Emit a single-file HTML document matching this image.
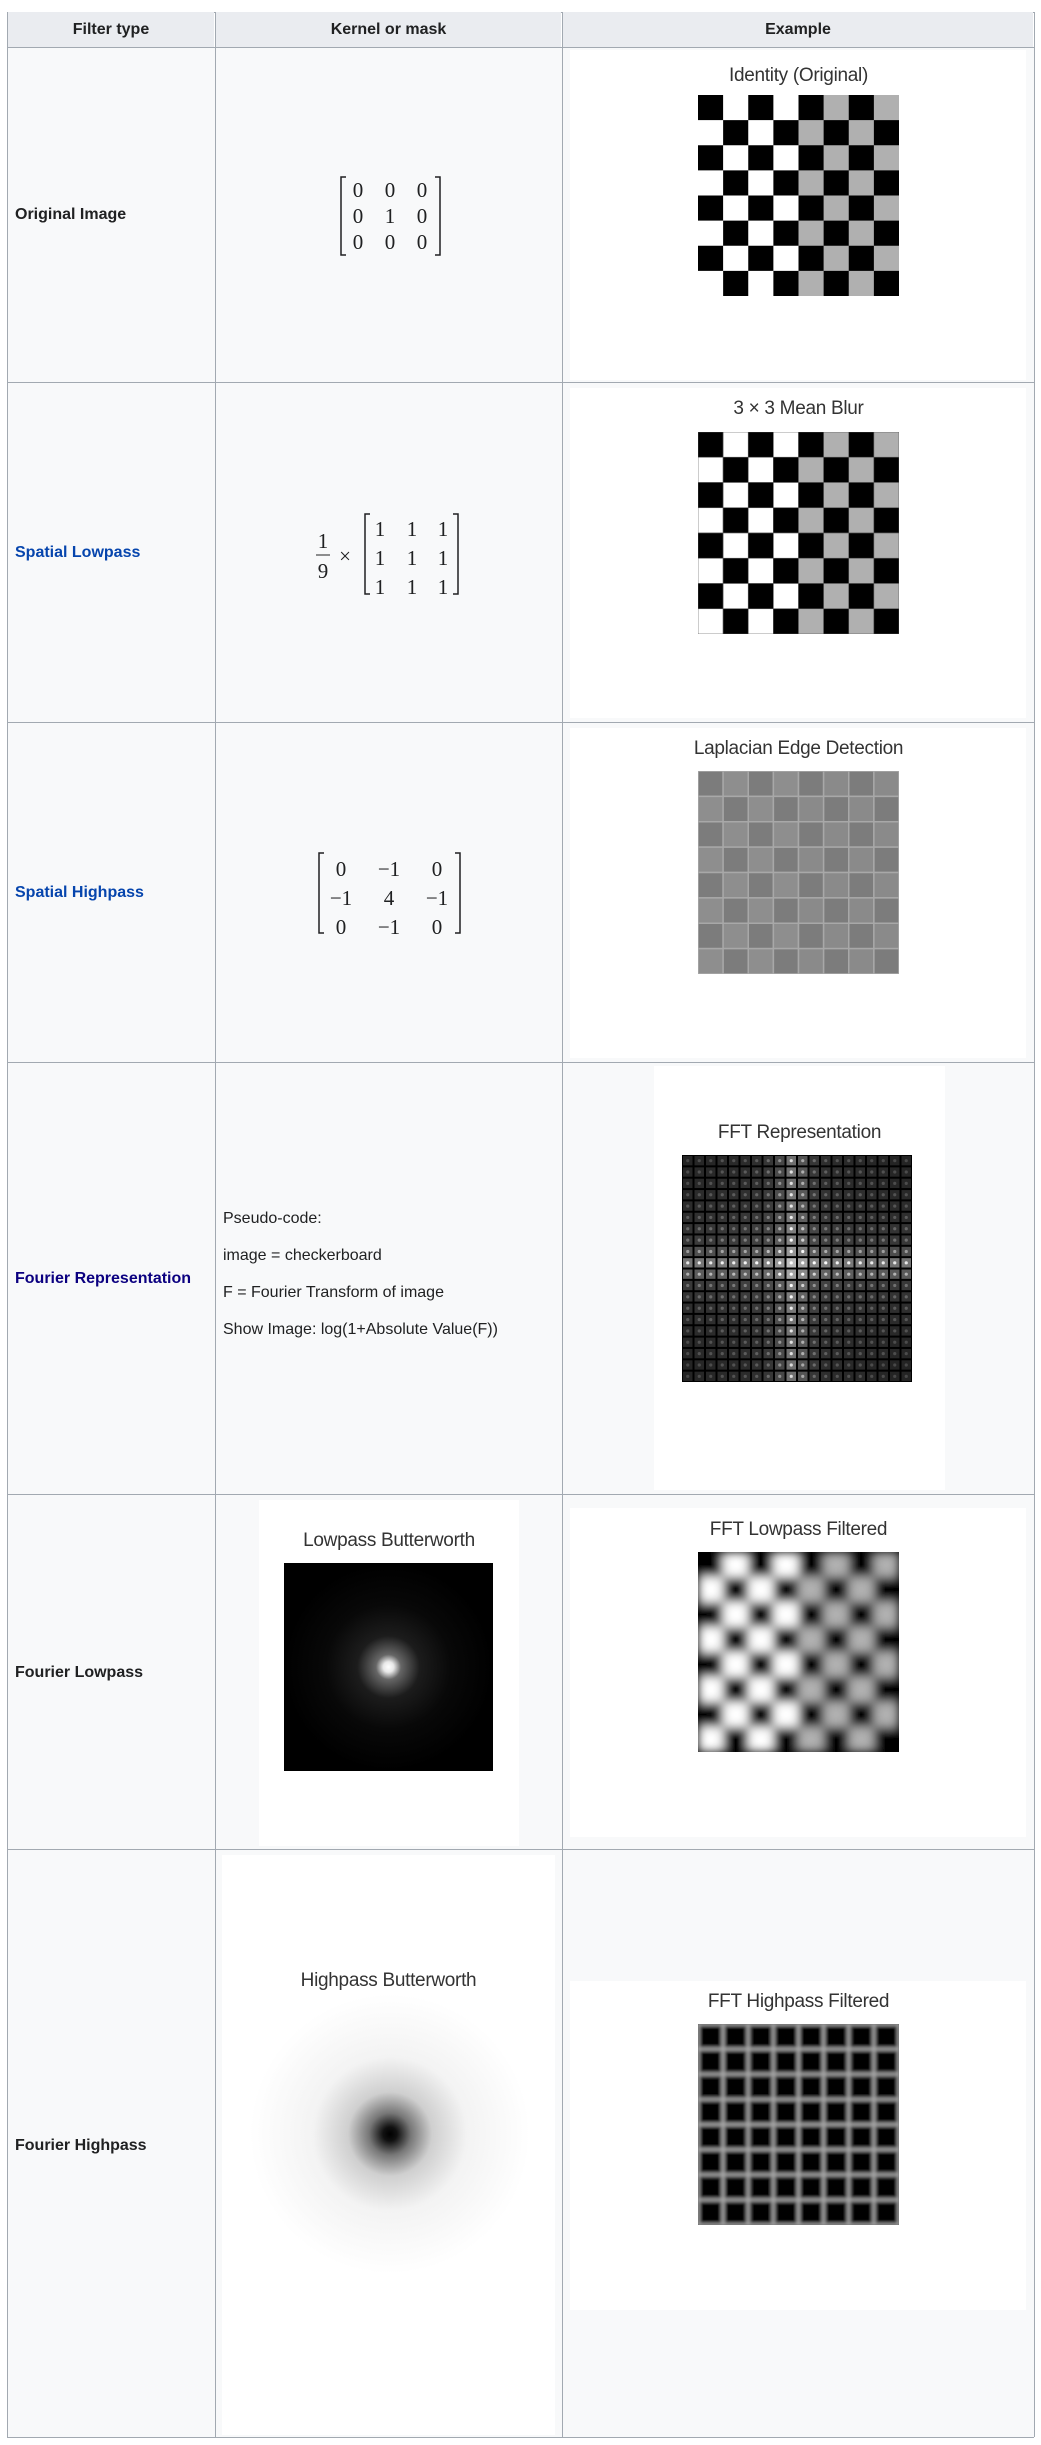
<!DOCTYPE html>
<html><head><meta charset="utf-8">
<style>
html,body{margin:0;padding:0;background:#fff;}
body{width:1041px;height:2445px;position:relative;overflow:hidden;font-family:"Liberation Sans",sans-serif;}
.abs{position:absolute;}
.hd{position:absolute;background:#eaecf0;font-weight:bold;font-size:16px;color:#202122;text-align:center;line-height:35px;}
.lbl{position:absolute;left:15px;font-weight:bold;font-size:16px;color:#202122;transform:translateY(-50%);white-space:nowrap;}
.panel{position:absolute;background:#fff;}
.ttl{position:absolute;font-size:19px;color:#333;text-align:center;transform:translateY(-50%);letter-spacing:-0.3px;white-space:nowrap;}
.code{position:absolute;left:223px;font-size:16px;color:#202122;transform:translateY(-50%);white-space:nowrap;}
svg text{font-family:"Liberation Serif",serif;}
</style></head><body>
<svg class="abs" style="left:0;top:0" width="1041" height="2445" id="grid"></svg>

<div class="hd" style="left:8px;top:12px;width:206px;height:35px">Filter type</div>
<div class="hd" style="left:216px;top:12px;width:345px;height:35px">Kernel or mask</div>
<div class="hd" style="left:563px;top:12px;width:470px;height:35px">Example</div>

<div class="lbl" style="top:215px">Original Image</div>
<div class="lbl" style="top:553px;color:#0645ad">Spatial Lowpass</div>
<div class="lbl" style="top:893px;color:#0645ad">Spatial Highpass</div>
<div class="lbl" style="top:1279px;color:#0b0080">Fourier Representation</div>
<div class="lbl" style="top:1673px">Fourier Lowpass</div>
<div class="lbl" style="top:2146px">Fourier Highpass</div>

<div class="panel" style="left:570px;top:50px;width:456px;height:330px"></div>
<div class="panel" style="left:570px;top:388px;width:456px;height:330px"></div>
<div class="panel" style="left:570px;top:728px;width:456px;height:330px"></div>
<div class="panel" style="left:654px;top:1066px;width:291px;height:424px"></div>
<div class="panel" style="left:259px;top:1500px;width:260px;height:346px"></div>
<div class="panel" style="left:570px;top:1508px;width:456px;height:329px"></div>
<div class="panel" style="left:222px;top:1855px;width:333px;height:580px"></div>
<div class="panel" style="left:570px;top:1981px;width:456px;height:329px"></div>

<div class="ttl" style="left:698px;width:201px;top:76px">Identity (Original)</div>
<div class="ttl" style="left:698px;width:201px;top:409px">3 × 3 Mean Blur</div>
<div class="ttl" style="left:648px;width:301px;top:749px">Laplacian Edge Detection</div>
<div class="ttl" style="left:654px;width:291px;top:1133px">FFT Representation</div>
<div class="ttl" style="left:259px;width:260px;top:1541px">Lowpass Butterworth</div>
<div class="ttl" style="left:648px;width:301px;top:1530px">FFT Lowpass Filtered</div>
<div class="ttl" style="left:222px;width:333px;top:1981px">Highpass Butterworth</div>
<div class="ttl" style="left:648px;width:301px;top:2002px">FFT Highpass Filtered</div>

<div class="code" style="top:1219px">Pseudo-code:</div>
<div class="code" style="top:1256px">image = checkerboard</div>
<div class="code" style="top:1293px">F = Fourier Transform of image</div>
<div class="code" style="top:1330px">Show Image: log(1+Absolute Value(F))</div>

<svg class="abs" style="left:330px;top:170px" width="120" height="95">
 <path d="M16 7 H11 V85 H16 M105 7 H110 V85 H105" stroke="#202122" stroke-width="1.5" fill="none"/>
 <g font-size="21" fill="#202122" text-anchor="middle">
  <text x="28" y="27">0</text><text x="60" y="27">0</text><text x="92" y="27">0</text>
  <text x="28" y="53">0</text><text x="60" y="53">1</text><text x="92" y="53">0</text>
  <text x="28" y="79">0</text><text x="60" y="79">0</text><text x="92" y="79">0</text>
 </g>
</svg>
<svg class="abs" style="left:305px;top:505px" width="170" height="100">
 <g font-size="21" fill="#202122" text-anchor="middle">
  <text x="18" y="43">1</text><text x="18" y="73">9</text>
  <text x="40" y="58">×</text>
  <text x="75" y="31">1</text><text x="107" y="31">1</text><text x="138" y="31">1</text>
  <text x="75" y="60">1</text><text x="107" y="60">1</text><text x="138" y="60">1</text>
  <text x="75" y="89">1</text><text x="107" y="89">1</text><text x="138" y="89">1</text>
 </g>
 <line x1="11" y1="50" x2="25" y2="50" stroke="#202122" stroke-width="1"/>
 <path d="M65 9 H60 V89 H65 M148 9 H153 V89 H148" stroke="#202122" stroke-width="1.5" fill="none"/>
</svg>
<svg class="abs" style="left:310px;top:845px" width="160" height="100">
 <path d="M14 8 H9 V88 H14 M145 8 H150 V88 H145" stroke="#202122" stroke-width="1.5" fill="none"/>
 <g font-size="21" fill="#202122" text-anchor="middle">
  <text x="31" y="31">0</text><text x="79" y="31">−1</text><text x="127" y="31">0</text>
  <text x="31" y="60">−1</text><text x="79" y="60">4</text><text x="127" y="60">−1</text>
  <text x="31" y="89">0</text><text x="79" y="89">−1</text><text x="127" y="89">0</text>
 </g>
</svg>

<svg class="abs" id="img-identity" style="left:698px;top:95px" width="201" height="201"></svg>
<svg class="abs" id="img-blur" style="left:698px;top:432px" width="201" height="202"></svg>
<svg class="abs" id="img-lap" style="left:698px;top:771px" width="201" height="203"></svg>
<svg class="abs" id="img-fft" style="left:682px;top:1155px" width="230" height="227"></svg>
<svg class="abs" style="left:284px;top:1563px" width="209" height="208">
 <defs><radialGradient id="lp" cx="0.5" cy="0.5" r="0.5">
  <stop offset="0" stop-color="#fff"/><stop offset="0.05" stop-color="#e8e8e8"/><stop offset="0.12" stop-color="#666"/><stop offset="0.3" stop-color="#1c1c1c"/><stop offset="0.6" stop-color="#080808"/><stop offset="1" stop-color="#000"/>
 </radialGradient></defs>
 <rect width="209" height="208" fill="url(#lp)"/>
</svg>
<svg class="abs" style="left:250px;top:1994px" width="280" height="280">
 <defs><radialGradient id="hp" cx="0.5" cy="0.5" r="0.5">
  <stop offset="0" stop-color="#000"/><stop offset="0.05" stop-color="#111"/><stop offset="0.15" stop-color="#777"/><stop offset="0.3" stop-color="#cfcfcf"/><stop offset="0.55" stop-color="#f3f3f3"/><stop offset="1" stop-color="#fff"/>
 </radialGradient></defs>
 <rect width="280" height="280" fill="url(#hp)"/>
</svg>
<svg class="abs" id="img-flp" style="left:698px;top:1552px" width="201" height="200"></svg>
<svg class="abs" id="img-fhp" style="left:698px;top:2024px" width="201" height="201"></svg>

<script>
// Checkerboard data: 0 = black, 1 = white, 2 = gray (8x8)
const checkRows = [
 [0,1,0,1,0,2,0,2],
 [1,0,1,0,2,0,2,0],
 [0,1,0,1,0,2,0,2],
 [1,0,1,0,2,0,2,0],
 [0,1,0,1,0,2,0,2],
 [1,0,1,0,2,0,2,0],
 [0,1,0,1,0,2,0,2],
 [1,0,1,0,2,0,2,0]
];
const checkColors = ['#000000','#ffffff','#b0b0b0'];
const lapColors = ['#7c7c7c','#8e8e8e','#8a8a8a'];
// FFT brightness profiles (20 columns / 20 rows)
const fftColProfile = [0.06,0.07,0.07,0.08,0.08,0.09,0.1,0.13,0.2,0.35,0.25,0.13,0.1,0.09,0.08,0.08,0.07,0.07,0.06,0.06];
const fftRowProfile = [0.04,0.05,0.05,0.06,0.07,0.08,0.1,0.12,0.2,0.35,0.25,0.12,0.1,0.08,0.07,0.06,0.05,0.05,0.04,0.04];

const NS='http://www.w3.org/2000/svg';
function mk(tag,attrs,parent){const e=document.createElementNS(NS,tag);for(const k in attrs)e.setAttribute(k,attrs[k]);parent.appendChild(e);return e;}

const g=document.getElementById('grid');
const rowsY=[12,47,382,722,1062,1494,1849,2437];
const colsX=[7,215,562,1034];
for(let r=1;r<rowsY.length-1;r++){
 for(let c=0;c<3;c++){
  const rc=mk('rect',{x:colsX[c],y:rowsY[r],width:colsX[c+1]-colsX[c],height:rowsY[r+1]-rowsY[r],fill:'#f8f9fa'},g);
  
  
 }
}
rowsY.forEach(y=>{const l=mk('line',{x1:7,x2:1034,y1:y+0.5,y2:y+0.5,stroke:'#a2a9b1','stroke-width':1},g);
 
 });
colsX.forEach(x=>{const l=mk('line',{x1:x+0.5,x2:x+0.5,y1:12,y2:2437,stroke:'#a2a9b1','stroke-width':1},g);
 
 });

function drawChecker(id,colors,opts){
 const s=document.getElementById(id);
 const W=+s.getAttribute('width'),H=+s.getAttribute('height');
 const cw=W/8,ch=H/8;
 let parent=s;
 if(opts&&opts.blur){mk('defs',{},s).innerHTML='<filter id="f'+id+'" x="-5%" y="-5%" width="110%" height="110%"><feGaussianBlur stdDeviation="'+opts.blur+'"/></filter>';
  mk('rect',{width:W,height:H,fill:'#000'},s);
  parent=mk('g',{filter:'url(#f'+id+')'},s);}
 checkRows.forEach((row,r)=>row.forEach((v,c)=>{
  const rc=mk('rect',{x:c*cw,y:r*ch,width:cw+0.3,height:ch+0.3,fill:colors[v]},parent);
  
  
  if(opts&&opts.stroke){rc.setAttribute('width',cw);rc.setAttribute('height',ch);rc.setAttribute('stroke',opts.stroke);rc.setAttribute('stroke-width',opts.sw);}
 }));
}
drawChecker('img-identity',checkColors);
drawChecker('img-blur',checkColors,{stroke:'#555',sw:0.6});
drawChecker('img-lap',lapColors,{stroke:'#a8a8a8',sw:1.5});
drawChecker('img-flp',checkColors,{blur:5});
drawChecker('img-fhp',['#000','#000','#000'],{stroke:'#aaaaaa',sw:3});
(function(){const s=document.getElementById('img-fhp');const d=mk('defs',{},s);
 d.innerHTML='<filter id="hpb"><feGaussianBlur stdDeviation="1.8"/></filter>';
 const gg=mk('g',{filter:'url(#hpb)'},s);[...s.querySelectorAll('rect')].forEach(r=>gg.appendChild(r));
 s.insertBefore(mk('rect',{width:201,height:201,fill:'#000'},s),gg);})();

(function(){const s=document.getElementById('img-fft');
 const W=230,H=227,n=fftColProfile.length,m=fftRowProfile.length;
 mk('rect',{width:W,height:H,fill:'#000'},s);
 const cw=W/n,ch=H/m;
 for(let r=0;r<m;r++)for(let c=0;c<n;c++){
  const v=Math.min(1,fftColProfile[c]+fftRowProfile[r]+0.04);
  const k=Math.round(v*255);
  const rc=mk('rect',{x:c*cw+1,y:r*ch+1,width:cw-2,height:ch-2,fill:'rgb('+k+','+k+','+k+')'},s);
  
  
  const dot=mk('circle',{cx:c*cw+cw/2,cy:r*ch+ch/2,r:1.6,fill:'rgb('+Math.min(255,k*2)+','+Math.min(255,k*2)+','+Math.min(255,k*2)+')'},s);
  
  
 }})();
</script>
</body></html>
